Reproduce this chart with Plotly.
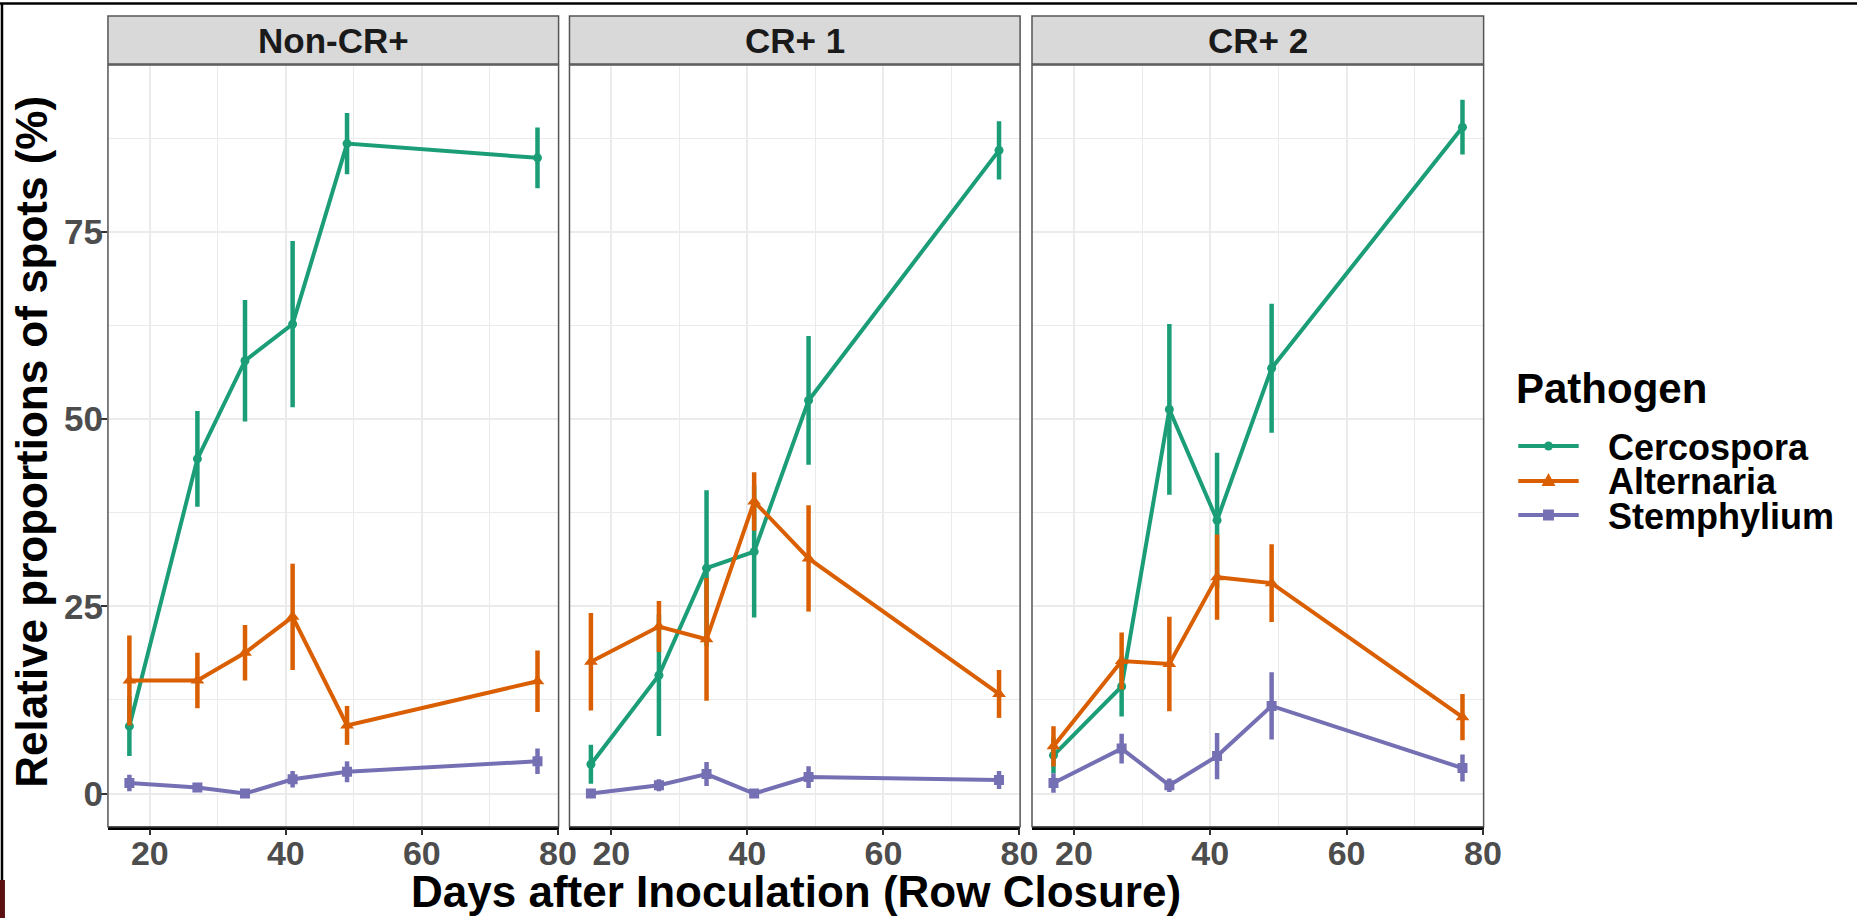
import plotly.graph_objects as go

# ---------------- data ----------------
days = [17, 27, 34, 41, 49, 77]
panels = ["Non-CR+", "CR+ 1", "CR+ 2"]
pathogens = ["Cercospora", "Alternaria", "Stemphylium"]

noncr_cercospora = [9.0, 44.7, 57.8, 62.7, 86.8, 84.9]
noncr_cercospora_se = [4.0, 6.4, 8.1, 11.1, 4.1, 4.05]
noncr_alternaria = [15.1, 15.1, 18.8, 23.6, 9.1, 15.0]
noncr_alternaria_se = [6.0, 3.7, 3.7, 7.1, 2.6, 4.1]
noncr_stemphylium = [1.4, 0.8, 0.0, 1.9, 2.9, 4.3]
noncr_stemphylium_se = [1.1, 0.3, 0.0, 1.1, 1.4, 1.7]

cr1_cercospora = [3.9, 15.8, 30.1, 32.3, 52.5, 85.9]
cr1_cercospora_se = [2.6, 8.1, 10.4, 8.8, 8.6, 3.9]
cr1_alternaria = [17.6, 22.3, 20.6, 39.0, 31.4, 13.3]
cr1_alternaria_se = [6.5, 3.4, 8.2, 3.9, 7.1, 3.2]
cr1_stemphylium = [0.0, 1.1, 2.6, 0.0, 2.2, 1.8]
cr1_stemphylium_se = [0.0, 0.8, 1.6, 0.0, 1.45, 1.2]

cr2_cercospora = [5.1, 14.3, 51.3, 36.5, 56.8, 89.0]
cr2_cercospora_se = [2.4, 4.0, 11.4, 9.0, 8.6, 3.65]
cr2_alternaria = [6.3, 17.7, 17.3, 28.9, 28.1, 10.2]
cr2_alternaria_se = [2.7, 3.8, 6.3, 5.7, 5.2, 3.1]
cr2_stemphylium = [1.4, 6.0, 1.1, 5.0, 11.7, 3.4]
cr2_stemphylium_se = [1.3, 2.0, 0.9, 3.1, 4.5, 1.8]

x_ticks = [20, 40, 60, 80]
y_ticks = [0, 25, 50, 75]

series = {
    "Non-CR+": [(noncr_cercospora, noncr_cercospora_se),
                (noncr_alternaria, noncr_alternaria_se),
                (noncr_stemphylium, noncr_stemphylium_se)],
    "CR+ 1": [(cr1_cercospora, cr1_cercospora_se),
              (cr1_alternaria, cr1_alternaria_se),
              (cr1_stemphylium, cr1_stemphylium_se)],
    "CR+ 2": [(cr2_cercospora, cr2_cercospora_se),
              (cr2_alternaria, cr2_alternaria_se),
              (cr2_stemphylium, cr2_stemphylium_se)],
}

# ---------------- styling ----------------
W, H = 1875, 918
colors = ["#1B9E77", "#D95F02", "#7570B3"]
symbols = ["circle", "triangle-up", "square"]
msizes = [9, 12, 10]
FONT = "Liberation Sans, Arial, sans-serif"

px_x = [(109, 564), (575, 1030), (1042, 1498)]
plot_top, plot_bot = 65, 826.7
strip_top, strip_bot = 16, 64


def fx(p):
    return p / W


def fy(p):
    return 1 - p / H


fig = go.Figure()

for i, panel in enumerate(panels):
    xa = "x" if i == 0 else f"x{i+1}"
    for j, name in enumerate(pathogens):
        vals, se = series[panel][j]
        fig.add_trace(go.Scatter(
            x=days, y=vals, mode="lines+markers", name=name,
            xaxis=xa, yaxis="y",
            line=dict(color=colors[j], width=4),
            marker=dict(symbol=symbols[j], size=msizes[j], color=colors[j]),
            error_y=dict(type="data", array=se, visible=True, color=colors[j],
                         thickness=4.5, width=0),
            showlegend=False,
        ))

axis_common = dict(
    range=[13.85, 80.1], tickvals=x_ticks, ticks="outside", ticklen=6,
    tickwidth=1.5, tickcolor="#333333",
    showgrid=True, gridcolor="#EBEBEB", gridwidth=1.6,
    minor=dict(dtick=10, tick0=0, showgrid=True, gridcolor="#EBEBEB",
               gridwidth=1.2, ticks=""),
    showline=True, linecolor="#000000", linewidth=2.5,
    zeroline=False, ticklabelstandoff=-11,
    tickfont=dict(family=FONT, size=34, color="#4D4D4D", weight="bold"),
    anchor="y",
)

layout = dict(
    width=W, height=H,
    margin=dict(l=0, r=0, t=0, b=0),
    paper_bgcolor="white", plot_bgcolor="white",
    showlegend=False,
    yaxis=dict(
        domain=[fy(plot_bot), fy(plot_top)], range=[-4.43, 97.3],
        tickvals=y_ticks, ticks="outside", ticklen=6, tickwidth=1.5,
        tickcolor="#333333",
        showgrid=True, gridcolor="#EBEBEB", gridwidth=1.6,
        minor=dict(dtick=12.5, tick0=0, showgrid=True, gridcolor="#EBEBEB",
                   gridwidth=1.2, ticks=""),
        zeroline=False, showline=False, ticklabelstandoff=-9,
        tickfont=dict(family=FONT, size=35, color="#4D4D4D", weight="bold"),
        anchor="x",
    ),
)
for i in range(3):
    key = "xaxis" if i == 0 else f"xaxis{i+1}"
    layout[key] = dict(axis_common, domain=[fx(px_x[i][0]), fx(px_x[i][1])])
fig.update_layout(**layout)

shapes = []
annotations = []
for i, panel in enumerate(panels):
    x0, x1 = fx(px_x[i][0]), fx(px_x[i][1])
    shapes.append(dict(type="rect", xref="paper", yref="paper", x0=x0, x1=x1,
                       y0=fy(plot_bot), y1=fy(plot_top),
                       line=dict(color="#555555", width=1.5), layer="above"))
    shapes.append(dict(type="rect", xref="paper", yref="paper", x0=x0, x1=x1,
                       y0=fy(strip_bot), y1=fy(strip_top),
                       fillcolor="#D9D9D9", line=dict(color="#555555", width=1.5)))
    annotations.append(dict(text=panel, xref="paper", yref="paper",
                            x=(x0 + x1) / 2, y=fy((strip_top + strip_bot) / 2 + 1),
                            xanchor="center", yanchor="middle", showarrow=False,
                            font=dict(family=FONT, size=35, color="#1A1A1A", weight="bold")))

# axis titles
annotations.append(dict(text="Days after Inoculation (Row Closure)", xref="paper", yref="paper",
                        x=fx(804), y=fy(891), xanchor="center", yanchor="middle",
                        showarrow=False,
                        font=dict(family=FONT, size=44, color="black", weight="bold")))
annotations.append(dict(text="Relative proportions of spots (%)", xref="paper", yref="paper",
                        x=fx(32), y=fy(442), xanchor="center", yanchor="middle",
                        textangle=-90, showarrow=False,
                        font=dict(family=FONT, size=44, color="black", weight="bold")))

# legend (drawn as annotations and shapes)
annotations.append(dict(text="Pathogen", xref="paper", yref="paper",
                        x=fx(1530), y=fy(388), xanchor="left", yanchor="middle",
                        showarrow=False, borderpad=0,
                        font=dict(family=FONT, size=42, color="black", weight="bold")))
leg_y = [446, 481, 515]
lx0, lx1, ltxt = 1533, 1594, 1623
for j, name in enumerate(pathogens):
    yc = leg_y[j]
    shapes.append(dict(type="line", xref="paper", yref="paper",
                       x0=fx(lx0), x1=fx(lx1), y0=fy(yc), y1=fy(yc),
                       line=dict(color=colors[j], width=4)))
    mc = (lx0 + lx1) / 2
    if symbols[j] == "circle":
        r = 4.5
        shapes.append(dict(type="circle", xref="paper", yref="paper",
                           x0=fx(mc - r), x1=fx(mc + r), y0=fy(yc + r), y1=fy(yc - r),
                           fillcolor=colors[j], line=dict(width=0)))
    elif symbols[j] == "triangle-up":
        s = 7
        path = (f"M {fx(mc - s)},{fy(yc + 5)} L {fx(mc + s)},{fy(yc + 5)} "
                f"L {fx(mc)},{fy(yc - 8)} Z")
        shapes.append(dict(type="path", xref="paper", yref="paper", path=path,
                           fillcolor=colors[j], line=dict(width=0)))
    else:
        s = 5.5
        shapes.append(dict(type="rect", xref="paper", yref="paper",
                           x0=fx(mc - s), x1=fx(mc + s), y0=fy(yc + s), y1=fy(yc - s),
                           fillcolor=colors[j], line=dict(width=0)))
    annotations.append(dict(text=name, xref="paper", yref="paper",
                            x=fx(ltxt), y=fy(yc + 1), xanchor="left", yanchor="middle",
                            showarrow=False, borderpad=0,
                            font=dict(family=FONT, size=36, color="black", weight="bold")))

# outer frame (top and left edges) and corner artifact
shapes.append(dict(type="line", xref="paper", yref="paper", x0=0, x1=1,
                   y0=fy(3.5), y1=fy(3.5), line=dict(color="black", width=2.5)))
shapes.append(dict(type="line", xref="paper", yref="paper", x0=fx(2), x1=fx(2),
                   y0=0, y1=fy(3.5), line=dict(color="black", width=2.5)))
shapes.append(dict(type="rect", xref="paper", yref="paper", x0=0, x1=fx(5),
                   y0=0, y1=fy(880), fillcolor="#5A1010", line=dict(width=0)))

fig.update_layout(shapes=shapes, annotations=annotations)

fig.write_html("out.html", config={"displayModeBar": False},
               post_script="document.body.style.margin='0px';")
